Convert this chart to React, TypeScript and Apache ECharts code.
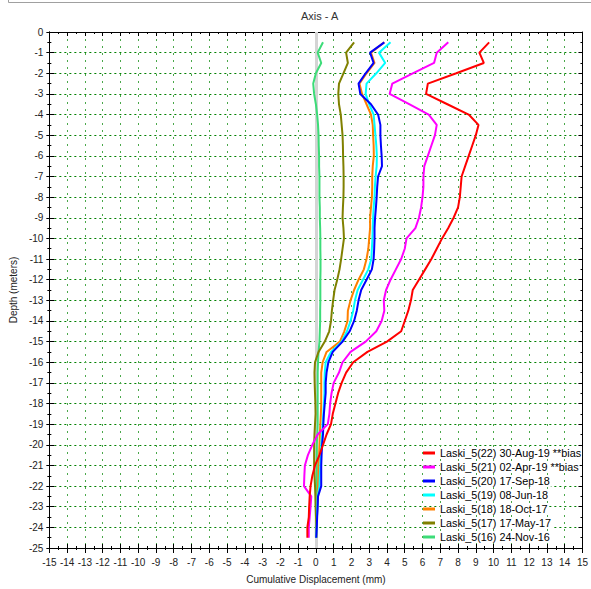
import React, { useEffect, useRef } from "react";
import * as echarts from "echarts";

const DEPTHS = [
  -0.5, -1, -1.5, -2, -2.5, -3, -3.5, -4, -4.5, -5, -5.5, -6, -6.5, -7, -7.5, -8, -8.5, -9, -9.5, -10,
  -10.5, -11, -11.5, -12, -12.5, -13, -13.5, -14, -14.5, -15, -15.5, -16, -16.5, -17, -17.5, -18, -18.5,
  -19, -19.5, -20, -20.5, -21, -21.5, -22, -22.5, -23, -23.5, -24, -24.5,
];

const RED_30AUG19 = [
  9.75, 9.2, 9.45, 7.9, 6.3, 6.2, 7.4, 8.6, 9.15, 9.0, 8.8, 8.6, 8.4, 8.2, 8.15, 8.1, 8.0, 7.75, 7.45, 7.1,
  6.8, 6.5, 6.15, 5.8, 5.45, 5.35, 5.2, 5.0, 4.8, 4.0, 2.9, 2.1, 1.7, 1.45, 1.25, 1.1, 0.95, 0.85, 0.6, 0.4,
  0.2, -0.05, -0.2, -0.3, -0.35, -0.38, -0.4, -0.48, -0.48,
];
const MAGENTA_02APR19 = [
  7.45, 6.8, 6.65, 5.45, 4.3, 4.15, 5.25, 6.35, 6.8, 6.7, 6.5, 6.3, 6.1, 6.05, 6.05, 6.0, 5.92, 5.8, 5.6, 5.1,
  5.0, 4.8, 4.5, 4.2, 3.95, 3.82, 3.85, 3.7, 3.4, 2.8, 1.95, 1.5, 1.3, 1.0, 0.88, 0.8, 0.76, 0.67, 0.1, -0.2,
  -0.45, -0.62, -0.65, -0.67, -0.26, -0.3, -0.35, -0.4, -0.4,
];
const BLUE_17SEP18 = [
  3.85, 3.05, 3.25, 2.8, 2.4, 2.5, 3.1, 3.5, 3.63, 3.63, 3.66, 3.7, 3.72, 3.5, 3.45, 3.42, 3.38, 3.33, 3.3, 3.3,
  3.28, 3.25, 3.15, 2.85, 2.55, 2.4, 2.3, 2.15, 1.9, 1.5, 0.95, 0.7, 0.6, 0.55, 0.55, 0.5, 0.45, 0.42, 0.4, 0.35,
  0.32, 0.3, 0.3, 0.3, 0.12, 0.1, 0.07, 0.05, 0.02,
];
const CYAN_08JUN18 = [
  4.2, 3.55, 3.9, 3.4, 2.85, 2.8, 3.0, 3.25, 3.3, 3.35, 3.4, 3.43, 3.42, 3.36, 3.32, 3.3, 3.25, 3.22, 3.2, 3.18,
  3.15, 3.12, 2.95, 2.65, 2.35, 2.2, 2.1, 1.95, 1.75, 1.45, 0.85, 0.55, 0.5, 0.48, 0.48, 0.45, 0.42, 0.38, 0.35, 0.3,
  0.27, 0.25, 0.22, 0.2, 0.1, 0.08, 0.06, 0.04, 0.02,
];
const ORANGE_18OCT17 = [
  3.85, 3.1, 3.3, 2.85, 2.45, 2.6, 2.85, 3.1, 3.2, 3.22, 3.25, 3.26, 3.2, 3.17, 3.17, 3.15, 3.1, 3.05, 3.05, 3.0,
  2.95, 2.85, 2.7, 2.4, 2.15, 1.95, 1.8, 1.78, 1.6, 1.35, 0.6, 0.38, 0.3, 0.3, 0.3, 0.3, 0.28, 0.25, 0.22, 0.2,
  0.18, 0.15, 0.15, 0.12, 0.1, 0.08, 0.06, 0.04, 0.03,
];
const OLIVE_17MAY17 = [
  2.15, 1.7, 1.8, 1.55, 1.3, 1.26, 1.3, 1.4, 1.45, 1.5, 1.52, 1.53, 1.55, 1.56, 1.56, 1.55, 1.52, 1.5, 1.55, 1.58,
  1.5, 1.42, 1.33, 1.2, 1.05, 0.97, 0.9, 0.85, 0.75, 0.5, 0.15, -0.05, -0.08, -0.07, -0.05, -0.03, -0.02, -0.05, -0.08, -0.1,
  -0.1, -0.1, -0.08, -0.05, -0.03, -0.02, 0.0, 0.0, 0.0,
];
const GREEN_24NOV16 = [
  0.4, 0.1, 0.3, 0.0, -0.15, -0.1, 0.0, 0.07, 0.12, 0.15, 0.16, 0.18, 0.18, 0.2, 0.2, 0.2, 0.22, 0.22, 0.24, 0.25,
  0.25, 0.26, 0.26, 0.25, 0.25, 0.25, 0.24, 0.24, 0.22, 0.2, 0.15, 0.12, 0.1, 0.1, 0.1, 0.1, 0.1, 0.1, 0.08, 0.05,
  0.05, 0.05, 0.05, 0.05, 0.04, 0.04, 0.03, 0.02, 0.02,
];

// legend order (top to bottom)
const NAMES = [
  "Laski_5(22) 30-Aug-19 **bias",
  "Laski_5(21) 02-Apr-19 **bias",
  "Laski_5(20) 17-Sep-18",
  "Laski_5(19) 08-Jun-18",
  "Laski_5(18) 18-Oct-17",
  "Laski_5(17) 17-May-17",
  "Laski_5(16) 24-Nov-16",
];
const VALUES = [RED_30AUG19, MAGENTA_02APR19, BLUE_17SEP18, CYAN_08JUN18, ORANGE_18OCT17, OLIVE_17MAY17, GREEN_24NOV16];
const COLORS = ["#ff0000", "#ff00ff", "#0000ff", "#00ffff", "#ff8000", "#808000", "#3cdc78"];
const ZERO_LINE = [0];

const FONT = "'Liberation Sans', Arial, sans-serif";

export default function App() {
  const ref = useRef<HTMLDivElement>(null);
  useEffect(() => {
    const chart = echarts.init(ref.current!, null, { renderer: "svg" });
    const tickStyle = { color: "#000", width: 1 };
    const baseX = { type: "value", min: -15, max: 15, interval: 1, gridIndex: 0 } as any;
    const baseY = { type: "value", min: -25, max: 0, interval: 1, gridIndex: 0 } as any;
    const axisLine = { show: true, onZero: false, lineStyle: { color: "#000", width: 1 } };

    // draw oldest first so newer are on top
    const order = [6, 5, 4, 3, 2, 1, 0];
    const series: any[] = [
      {
        name: "zero",
        type: "line",
        xAxisIndex: 0,
        yAxisIndex: 0,
        z: 1,
        symbol: "none",
        data: [],
        markLine: {
          silent: true,
          symbol: "none",
          z: 1,
          label: { show: false },
          lineStyle: { color: "#d4d4d4", width: 3, type: "solid" },
          data: ZERO_LINE.map((v) => ({ xAxis: v })),
        },
      },
      ...order.map((i) => ({
        name: NAMES[i],
        type: "line",
        xAxisIndex: 0,
        yAxisIndex: 0,
        z: 3,
        symbol: "none",
        showSymbol: false,
        lineStyle: { color: COLORS[i], width: 2 },
        itemStyle: { color: COLORS[i] },
        data: DEPTHS.map((d, j) => [VALUES[i][j], d]),
      })),
    ];

    const option: any = {
      animation: false,
      backgroundColor: "#fff",
      title: {
        text: "Axis - A",
        left: 296,
        top: 5,
        textStyle: { fontSize: 11, fontWeight: "normal", color: "#333", fontFamily: FONT },
      },
      graphic: [
        {
          type: "rect",
          shape: { x: 8.5, y: -10, width: 600, height: 12.5 },
          style: { fill: "none", stroke: "#a0a0a0", lineWidth: 1 },
        },
      ],
      grid: { left: 48, right: 3, top: 32, bottom: 37.5, containLabel: false },
      legend: {
        orient: "vertical",
        left: 423,
        top: 447,
        data: NAMES,
        icon: "rect",
        itemWidth: 12,
        itemHeight: 3,
        itemGap: 2,
        padding: 0,
        textStyle: {
          fontSize: 10.8,
          color: "#000",
          fontFamily: FONT,
          lineHeight: 12,
          backgroundColor: "#fff",
          padding: [0, 1, 0, 0],
        },
      },
      xAxis: [
        {
          ...baseX,
          position: "bottom",
          name: "Cumulative Displacement (mm)",
          nameLocation: "middle",
          nameGap: 26,
          nameTextStyle: { fontSize: 10, color: "#222", fontFamily: FONT },
          axisLine,
          axisTick: { show: true, inside: false, length: 5, lineStyle: tickStyle },
          minorTick: { show: true, splitNumber: 2, length: 2, lineStyle: tickStyle },
          axisLabel: { show: true, fontSize: 10, color: "#222", fontFamily: FONT, margin: 9 },
          splitLine: { show: true, lineStyle: { color: "#4aa84a", type: [2, 5], width: 1 } },
        },
        {
          ...baseX,
          position: "bottom",
          axisLine,
          axisTick: { show: true, inside: true, length: 4, lineStyle: tickStyle },
          minorTick: { show: true, splitNumber: 2, length: 2, lineStyle: tickStyle },
          axisLabel: { show: false },
          splitLine: { show: false },
        },
        {
          ...baseX,
          position: "top",
          axisLine,
          axisTick: { show: true, inside: true, length: 4, lineStyle: tickStyle },
          minorTick: { show: true, splitNumber: 2, length: 2, lineStyle: tickStyle },
          axisLabel: { show: false },
          splitLine: { show: false },
        },
      ],
      yAxis: [
        {
          ...baseY,
          position: "left",
          name: "Depth (meters)",
          nameLocation: "middle",
          nameGap: 29,
          nameTextStyle: { fontSize: 10, color: "#222", fontFamily: FONT },
          axisLine,
          axisTick: { show: true, inside: false, length: 3, lineStyle: tickStyle },
          minorTick: { show: true, splitNumber: 2, length: 2, lineStyle: tickStyle },
          axisLabel: { show: true, fontSize: 10, color: "#222", fontFamily: FONT, margin: 6 },
          splitLine: { show: true, lineStyle: { color: "#008000", type: [2, 3], width: 1 } },
        },
        {
          ...baseY,
          position: "left",
          axisLine,
          axisTick: { show: true, inside: true, length: 5, lineStyle: tickStyle },
          minorTick: { show: true, splitNumber: 2, length: 2, lineStyle: tickStyle },
          axisLabel: { show: false },
          splitLine: { show: false },
        },
        {
          ...baseY,
          position: "right",
          axisLine,
          axisTick: { show: true, inside: true, length: 4, lineStyle: tickStyle },
          minorTick: { show: true, splitNumber: 2, length: 2, lineStyle: tickStyle },
          axisLabel: { show: false },
          splitLine: { show: false },
        },
      ],
      series,
    };
    chart.setOption(option);
    return () => chart.dispose();
  }, []);
  return (
    <div
      ref={ref}
      style={{ position: "absolute", left: 0, top: 0, width: 591, height: 589 }}
    />
  );
}
